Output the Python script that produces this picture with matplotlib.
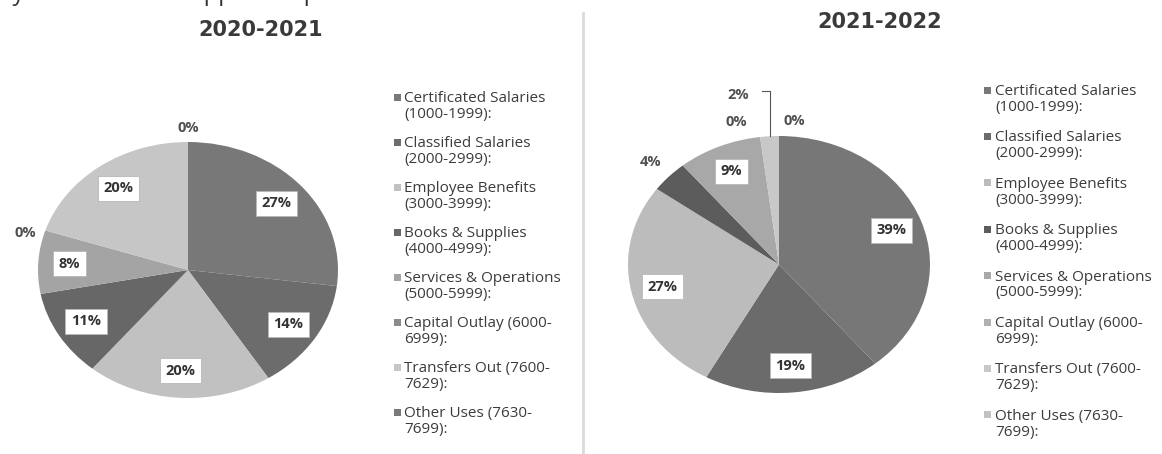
import matplotlib
matplotlib.use("Agg")
import matplotlib.pyplot as plt
import numpy as np
from matplotlib.lines import Line2D
from matplotlib.patches import Rectangle

# ---------------- data ----------------
categories = [
    "Certificated Salaries\n(1000-1999):",
    "Classified Salaries\n(2000-2999):",
    "Employee Benefits\n(3000-3999):",
    "Books & Supplies\n(4000-4999):",
    "Services & Operations\n(5000-5999):",
    "Capital Outlay (6000-\n6999):",
    "Transfers Out (7600-\n7629):",
    "Other Uses (7630-\n7699):",
]
values_2020 = [27, 14, 20, 11, 8, 0, 20, 0]
values_2021 = [39, 19, 27, 4, 9, 0, 2, 0]
title_2020 = "2020-2021"
title_2021 = "2021-2022"
header_text = "by the one-time supplies of p"

colors_2020 = ["#787878", "#6c6c6c", "#c1c1c1", "#676767", "#a4a4a4", "#8c8c8c", "#c6c6c6", "#7a7a7a"]
colors_2021 = ["#777777", "#6b6b6b", "#bcbcbc", "#5c5c5c", "#a8a8a8", "#b0b0b0", "#c8c8c8", "#c2c2c2"]

W, H = 1162, 454
plt.rcParams["font.family"] = ["Open Sans", "DejaVu Sans"]
fig = plt.figure(figsize=(W / 100, H / 100), dpi=100)
fig.patch.set_facecolor("white")


def fx(px):
    return px / W


def fy(py):
    return 1 - py / H


def draw_pie(box, values, colors, inside_r, outside_specs):
    x0, y0, x1, y1 = box
    ax = fig.add_axes([fx(x0), fy(y1), fx(x1) - fx(x0), fy(y0) - fy(y1)])
    wedges, _ = ax.pie(values, colors=colors, startangle=90, counterclock=False,
                       radius=1, wedgeprops=dict(linewidth=0, edgecolor="none"))
    ax.set_aspect("auto")
    ax.set_xlim(-1, 1)
    ax.set_ylim(-1, 1)
    ax.axis("off")
    total = sum(values)
    for i, (w, v) in enumerate(zip(wedges, values)):
        mid = np.deg2rad((w.theta1 + w.theta2) / 2)
        label = f"{round(100 * v / total)}%"
        if i in outside_specs:
            r, dx, dy = outside_specs[i]
            ax.text(r * np.cos(mid) + dx, r * np.sin(mid) + dy, label, ha="center", va="center",
                    fontsize=10.5, fontweight="bold", color="#505050", clip_on=False)
        else:
            ax.text(inside_r * np.cos(mid), inside_r * np.sin(mid), label, ha="center", va="center",
                    fontsize=10.5, fontweight="bold", color="#333333",
                    bbox=dict(boxstyle="square,pad=0.38", facecolor="white",
                              edgecolor="#b8b8b8", linewidth=0.6))
    return ax, wedges


def draw_legend(x_marker, x_text, y_first, step, colors):
    for i, (cat, col) in enumerate(zip(categories, colors)):
        yc = y_first + i * step
        fig.add_artist(Rectangle((fx(x_marker), fy(yc + 3.5)), 7 / W, 7 / H,
                                 transform=fig.transFigure, facecolor=col, edgecolor="none"))
        fig.text(fx(x_text), fy(yc - 6), cat, ha="left", va="top", fontsize=11,
                 color="#3c3c3c", linespacing=1.08)


# left pie
ax1, w1 = draw_pie((38, 142, 338, 398), values_2020, colors_2020, 0.79,
                   {5: (1.14, 0.0, -0.06), 7: (1.11, 0.0, 0.0)})
# right pie
ax2, w2 = draw_pie((628, 136, 930, 393), values_2021, colors_2021, 0.79,
                   {3: (1.17, 0.0, 0.0), 5: (1.12, -0.14, 0.0), 6: (1.32, -0.19, 0.0),
                    7: (1.12, 0.1, 0.0)})
# leader line for the 2% label (right pie)
w = w2[6]
mid = np.deg2rad((w.theta1 + w.theta2) / 2)
ex, ey = np.cos(mid), np.sin(mid)
ax2.add_line(Line2D([ex, ex, ex - 0.05], [ey, 1.35, 1.35], color="#555555", lw=0.8,
                    clip_on=False))

# titles
fig.text(fx(261), fy(30), title_2020, ha="center", va="center", fontsize=15,
         fontweight="bold", color="#3a3a3a", family=["DejaVu Sans"])
fig.text(fx(880), fy(22), title_2021, ha="center", va="center", fontsize=15,
         fontweight="bold", color="#3a3a3a", family=["DejaVu Sans"])

# clipped header sentence at the very top
fig.text(fx(-2), fy(-6), header_text, ha="left", va="center", fontsize=17, color="#333333")

# divider
fig.add_artist(Line2D([fx(583), fx(583)], [fy(13), fy(454)], color="#dadada", lw=2))

# legends
draw_legend(394, 404, 97, 45, colors_2020)
draw_legend(984, 995, 90, 46.4, colors_2021)

fig.savefig("out.png", dpi=100, facecolor="white")
